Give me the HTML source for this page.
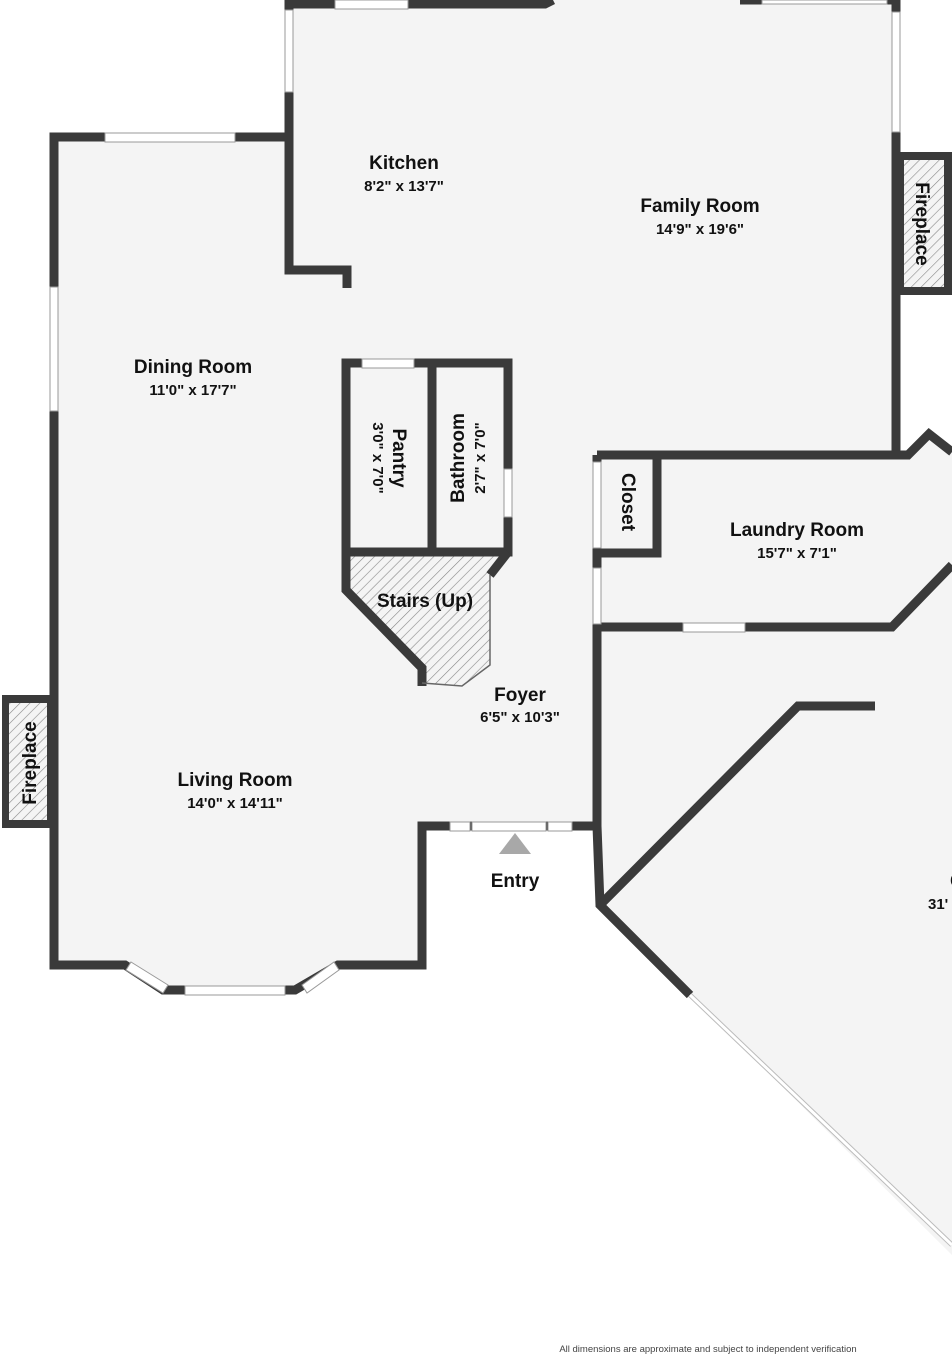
<!DOCTYPE html>
<html><head><meta charset="utf-8"><style>
html,body{margin:0;padding:0;background:#fff;}
svg{display:block;}
text{font-family:"Liberation Sans",sans-serif;fill:#111;font-weight:bold;}
.n{font-size:19px;}
.d{font-size:15px;}
</style></head><body>
<svg width="952" height="1354" viewBox="0 0 952 1354" xmlns="http://www.w3.org/2000/svg">
<defs>
<pattern id="h" patternUnits="userSpaceOnUse" width="7" height="7" patternTransform="rotate(45)">
<rect width="7" height="7" fill="#f4f4f4"/><line x1="0" y1="0" x2="0" y2="7" stroke="#888" stroke-width="1.2"/>
</pattern>
</defs>
<polygon fill="#f4f4f4" points="289,4 545,4 553,0 896,0 896,455 908,455 929,434 952,452 952,1255 690,995 600,905 597,826 422,826 422,965 338,965 300,990 160,990 120,965 54,965 54,137 289,137"/>
<rect x="896" y="152" width="56" height="143" fill="#3a3a3a"/>
<rect x="904" y="160" width="40" height="127" fill="url(#h)"/>
<rect x="2" y="695" width="52" height="133" fill="#3a3a3a"/>
<rect x="9" y="703" width="38" height="117" fill="url(#h)"/>
<polygon fill="url(#h)" points="346,552 508,552 490,575 490,665 462,686 422,683 422,668 346,590"/>
<g fill="none" stroke="#3a3a3a" stroke-width="9" stroke-linejoin="miter">
<polyline points="289,4 545,4 553,0"/>
<polyline points="740,0 896,0 896,455"/>
<polyline points="289,0 289,270 347,270 347,288"/>
<polyline points="289,137 54,137 54,965 125,965 163,990 295,990 338,965 422,965 422,826 597,826"/>
<polyline points="597,455 908,455 929,434 952,452"/>
<polyline points="597,627 892,627 952,565"/>
<polyline points="597,455 597,826 600,905 690,995"/>
<polyline points="600,905 798,706 875,706"/>
<rect x="346" y="363" width="162" height="189"/>
<line x1="432" y1="363" x2="432" y2="552"/>
<polyline points="346,552 346,590 422,668 422,686"/>
<polyline points="508,552 490,575"/>
<polyline points="597,553 657,553 657,455"/>
</g>
<polyline points="490,575 490,665 462,686 422,683" fill="none" stroke="#666" stroke-width="1.5"/>
<line x1="690" y1="995" x2="952" y2="1245" stroke="#bbb" stroke-width="5"/>
<line x1="690" y1="995" x2="952" y2="1245" stroke="#fff" stroke-width="3"/>
<g fill="#fff" stroke="#999" stroke-width="1">
<rect x="335" y="0" width="73" height="9"/>
<rect x="285" y="10" width="8" height="82"/>
<rect x="892" y="12" width="8" height="120"/>
<rect x="105" y="133" width="130" height="9"/>
<rect x="50" y="287" width="8" height="124"/>
<rect x="362" y="359" width="52" height="9"/>
<rect x="504" y="469" width="8" height="48"/>
<rect x="593" y="462" width="8" height="86"/>
<rect x="593" y="568" width="8" height="56"/>
<rect x="683" y="623" width="62" height="9"/>
<rect x="185" y="986" width="100" height="9"/>
<rect x="450" y="822" width="20" height="9"/>
<rect x="472" y="822" width="74" height="9"/>
<rect x="548" y="822" width="24" height="9"/>
<rect x="762" y="0" width="125" height="4"/>
</g>
<g fill="#fff" stroke="#999" stroke-width="1">
<polygon points="131,962 168,985 163,993 126,970"/>
<polygon points="302,985 334,962 339,970 307,993"/>
</g>
<polygon points="515,833 499,854 531,854" fill="#a8a8a8"/>
<g text-anchor="middle">
<text class="n" x="404" y="169">Kitchen</text>
<text class="d" x="404" y="191">8'2" x 13'7"</text>
<text class="n" x="700" y="212">Family Room</text>
<text class="d" x="700" y="234">14'9" x 19'6"</text>
<text class="n" x="193" y="373">Dining Room</text>
<text class="d" x="193" y="395">11'0" x 17'7"</text>
<text class="n" x="235" y="786">Living Room</text>
<text class="d" x="235" y="808">14'0" x 14'11"</text>
<text class="n" x="520" y="701">Foyer</text>
<text class="d" x="520" y="722">6'5" x 10'3"</text>
<text class="n" x="797" y="536">Laundry Room</text>
<text class="d" x="797" y="558">15'7" x 7'1"</text>
<text class="n" x="425" y="607">Stairs (Up)</text>
<text class="n" x="515" y="887">Entry</text>
<text class="n" x="950" y="887" text-anchor="start">G</text>
<text class="d" x="928" y="909" text-anchor="start">31'</text>
<text class="n" transform="translate(393,458) rotate(90)">Pantry</text>
<text class="d" transform="translate(373,458) rotate(90)">3'0" x 7'0"</text>
<text class="n" transform="translate(464,458) rotate(-90)">Bathroom</text>
<text class="d" transform="translate(485,458) rotate(-90)">2'7" x 7'0"</text>
<text class="n" transform="translate(622,502) rotate(90)">Closet</text>
<text class="n" transform="translate(916,224) rotate(90)">Fireplace</text>
<text class="n" transform="translate(36,763) rotate(-90)">Fireplace</text>
<text x="708" y="1352" style="font-size:9.5px;font-weight:normal;fill:#444">All dimensions are approximate and subject to independent verification</text>
</g>
</svg>
</body></html>
